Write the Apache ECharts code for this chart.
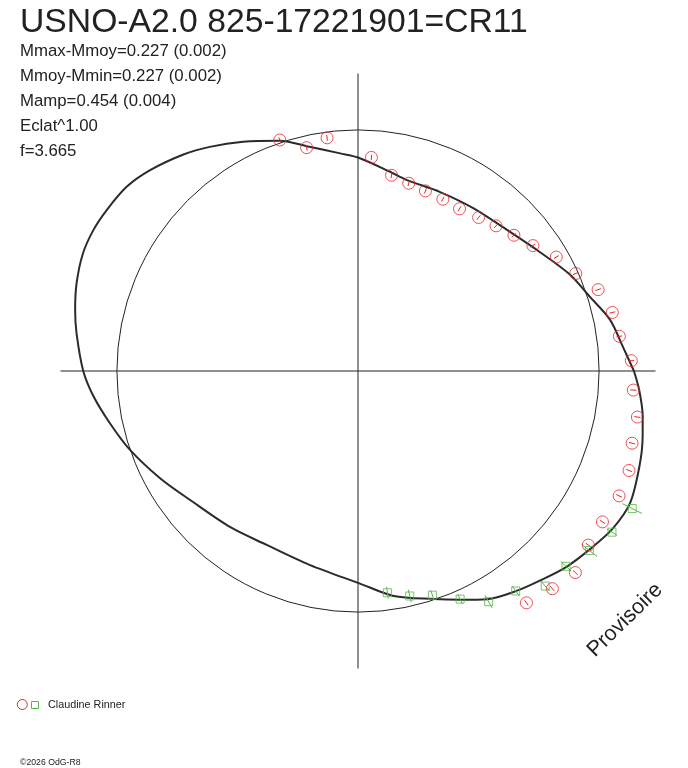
<!DOCTYPE html>
<html>
<head>
<meta charset="utf-8">
<script src="https://cdn.jsdelivr.net/npm/echarts/dist/echarts.min.js"></script>
<style>
html,body{margin:0;padding:0;background:#ffffff;}
#chart{width:688px;height:768px;}
</style>
</head>
<body>
<div id="chart"></div>
<script>
// Title and statistics
const titleText = "USNO-A2.0 825-17221901=CR11";
const statLines = [
  "Mmax-Mmoy=0.227 (0.002)",
  "Mmoy-Mmin=0.227 (0.002)",
  "Mamp=0.454 (0.004)",
  "Eclat^1.00",
  "f=3.665"
];
const observer = "Claudine Rinner";
const copyright = "\u00a92026 OdG-R8";
const watermark = "Provisoire";

// Fitted light curve (phase, relative flux; mean flux = 1)
const curvePhase = [0.000,0.014,0.032,0.049,0.068,0.092,0.121,0.152,0.182,0.210,0.225,0.250,0.263,0.284,0.302,0.324,0.343,0.358,0.378,0.393,0.409,0.422,0.436,0.452,0.466,0.479,0.500,0.515,0.533,0.553,0.579,0.604,0.641,0.673,0.711,0.751,0.775,0.801,0.817,0.832,0.849,0.866,0.880,0.896,0.912,0.928,0.948,0.964,0.975,0.989];
const curveFlux  = [1.145,1.105,1.067,1.011,0.966,0.902,0.851,0.828,0.817,0.818,0.838,0.886,0.906,0.952,1.009,1.064,1.115,1.154,1.200,1.227,1.238,1.244,1.241,1.223,1.201,1.178,1.140,1.103,1.052,1.001,0.934,0.879,0.837,0.815,0.829,0.881,0.945,0.997,1.040,1.088,1.124,1.156,1.187,1.214,1.243,1.255,1.233,1.212,1.196,1.170];

// Session 1 (red circles)
const s1Phase = [0.302,0.286,0.271,0.240,0.223,0.208,0.193,0.177,0.161,0.144,0.129,0.114,0.099,0.083,0.067,0.052,0.036,0.021,0.006,0.989,0.974,0.959,0.944,0.929,0.912,0.897,0.881,0.866,0.850];
const s1Flux  = [1.012,0.951,0.976,0.888,0.824,0.807,0.798,0.795,0.794,0.810,0.831,0.858,0.893,0.949,0.990,1.052,1.083,1.094,1.135,1.145,1.175,1.176,1.198,1.201,1.192,1.198,1.230,1.211,1.189];
const s1Err   = [0.012,0.012,0.012,0.011,0.012,0.012,0.012,0.011,0.012,0.012,0.012,0.012,0.012,0.012,0.012,0.012,0.012,0.012,0.012,0.013,0.013,0.013,0.013,0.013,0.013,0.013,0.013,0.013,0.013];

// Session 2 (green squares)
const s2Phase = [0.771,0.786,0.801,0.817,0.832,0.849,0.864,0.880,0.895,0.910,0.926];
const s2Flux  = [0.928,0.958,0.980,1.037,1.100,1.123,1.183,1.184,1.215,1.248,1.273];
const s2Err   = [0.025,0.027,0.021,0.023,0.030,0.027,0.027,0.030,0.040,0.025,0.045];

const RED = '#e8262a';
const GREEN = '#56b84a';
const INK = '#222222';
const FONT = '"Liberation Sans", Arial, sans-serif';

const curveData = curvePhase.map((p, i) => [curveFlux[i], p]);
curveData.push([curveFlux[0], 1]);

function errBars(color) {
  return function (params, api) {
    const r = api.value(0), a = api.value(1), e = api.value(2);
    const p1 = api.coord([r - e, a]);
    const p2 = api.coord([r + e, a]);
    return {
      type: 'line',
      shape: { x1: p1[0], y1: p1[1], x2: p2[0], y2: p2[1] },
      style: { stroke: color, lineWidth: 1 }
    };
  };
}

const hidden = { axisLine: { show: false }, axisTick: { show: false }, axisLabel: { show: false }, splitLine: { show: false } };

const chart = echarts.init(document.getElementById('chart'), null, { renderer: 'canvas' });
chart.setOption({
  backgroundColor: '#ffffff',
  animation: false,
  // polar 0: axes cross and mean-flux circle; polar 1: data (same scale, larger extent)
  polar: [
    { center: [358, 371], radius: 297.5 },
    { center: [358, 371], radius: 337.4 }
  ],
  angleAxis: [
    {
      polarIndex: 0, type: 'value', min: 0, max: 1, interval: 0.25,
      startAngle: 0, clockwise: false,
      axisLine: { show: false }, axisTick: { show: false }, axisLabel: { show: false },
      splitLine: { show: true, lineStyle: { color: INK, width: 1 } }
    },
    Object.assign({ polarIndex: 1, type: 'value', min: 0, max: 1, startAngle: 0, clockwise: false }, hidden)
  ],
  radiusAxis: [
    {
      polarIndex: 0, type: 'value', min: 0, max: 1.234, interval: 1,
      axisLine: { show: false }, axisTick: { show: false }, axisLabel: { show: false },
      splitLine: { show: true, lineStyle: { color: ['rgba(0,0,0,0)', INK, 'rgba(0,0,0,0)'], width: 1 } }
    },
    Object.assign({ polarIndex: 1, type: 'value', min: 0, max: 1.4 }, hidden)
  ],
  series: [
    {
      type: 'line', coordinateSystem: 'polar', polarIndex: 1, data: curveData,
      showSymbol: false, smooth: 0.3, clip: false,
      lineStyle: { color: '#2b2b2b', width: 2 }, z: 3
    },
    {
      type: 'custom', coordinateSystem: 'polar', polarIndex: 1,
      data: s1Phase.map((p, i) => [s1Flux[i], p, s1Err[i]]),
      renderItem: errBars(RED), z: 4, clip: false
    },
    {
      type: 'scatter', coordinateSystem: 'polar', polarIndex: 1,
      data: s1Phase.map((p, i) => [s1Flux[i], p]),
      symbol: 'circle', symbolSize: 12, clip: false,
      itemStyle: { color: 'rgba(0,0,0,0)', borderColor: RED, borderWidth: 1 }, z: 5
    },
    {
      type: 'custom', coordinateSystem: 'polar', polarIndex: 1,
      data: s2Phase.map((p, i) => [s2Flux[i], p, s2Err[i]]),
      renderItem: errBars(GREEN), z: 4, clip: false
    },
    {
      type: 'scatter', coordinateSystem: 'polar', polarIndex: 1,
      data: s2Phase.map((p, i) => [s2Flux[i], p]),
      symbol: 'rect', symbolSize: 8, clip: false,
      itemStyle: { color: 'rgba(0,0,0,0)', borderColor: GREEN, borderWidth: 1 }, z: 5
    }
  ],
  graphic: [
    { type: 'text', x: 20, y: 23, style: { text: titleText, font: '33.7px ' + FONT, fill: INK, verticalAlign: 'middle' } },
    ...statLines.map((t, i) => ({
      type: 'text', x: 20, y: 51.5 + 25 * i,
      style: { text: t, font: '16.8px ' + FONT, fill: INK, verticalAlign: 'middle' }
    })),
    { type: 'circle', shape: { cx: 22.3, cy: 704.5, r: 5 }, style: { fill: 'rgba(0,0,0,0)', stroke: RED, lineWidth: 1 } },
    { type: 'rect', shape: { x: 31.5, y: 701.5, width: 7, height: 7 }, style: { fill: 'rgba(0,0,0,0)', stroke: GREEN, lineWidth: 1 } },
    { type: 'text', x: 48, y: 705, style: { text: observer, font: '10.8px ' + FONT, fill: INK, verticalAlign: 'middle' } },
    { type: 'text', x: 20, y: 762.5, style: { text: copyright, font: '8.7px ' + FONT, fill: INK, verticalAlign: 'middle' } },
    { type: 'text', x: 625, y: 620, rotation: 0.775, style: { text: watermark, font: '21.5px ' + FONT, fill: INK, align: 'center', verticalAlign: 'middle' } }
  ]
});
</script>
</body>
</html>
